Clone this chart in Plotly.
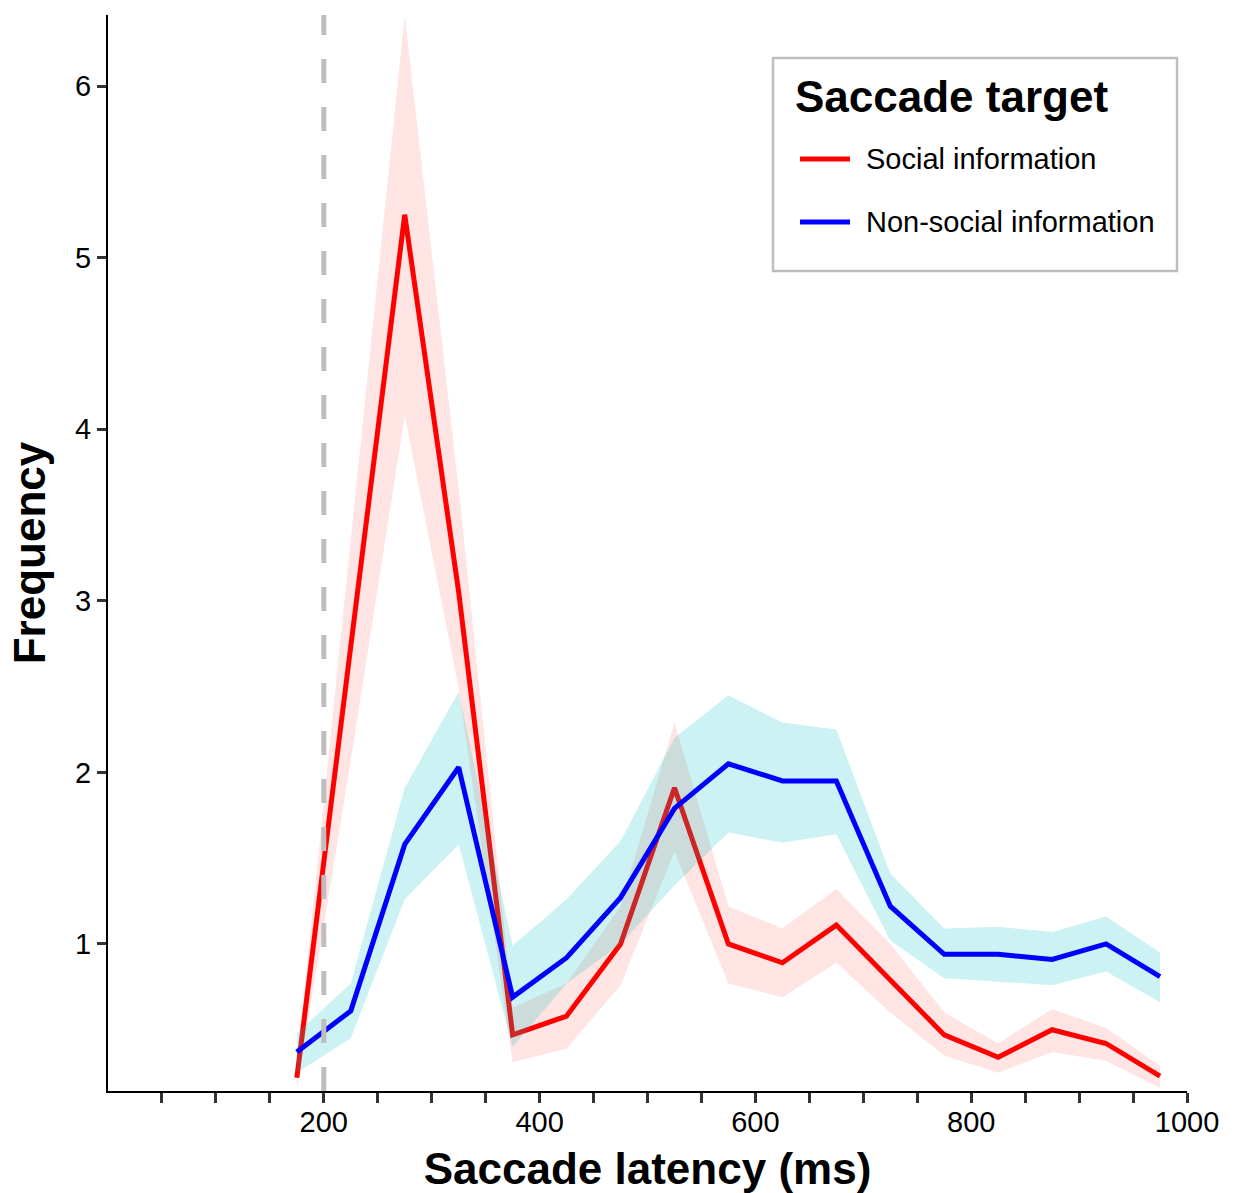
import plotly.graph_objects as go

# ---------------- data ----------------
latency = [175, 225, 275, 325, 375, 425, 475, 525, 575, 625, 675, 725, 775, 825, 875, 925, 975]

social_mean  = [0.22, 2.74, 5.25, 3.05, 0.47, 0.58, 1.00, 1.91, 1.00, 0.89, 1.11, 0.79, 0.47, 0.34, 0.50, 0.42, 0.23]
social_upper = [0.30, 3.35, 6.41, 3.65, 0.63, 0.77, 1.22, 2.29, 1.22, 1.09, 1.32, 1.00, 0.60, 0.42, 0.62, 0.51, 0.29]
social_lower = [0.15, 2.07, 4.08, 2.49, 0.31, 0.39, 0.76, 1.54, 0.77, 0.69, 0.89, 0.60, 0.35, 0.25, 0.37, 0.32, 0.16]

nonsocial_mean  = [0.37, 0.61, 1.58, 2.03, 0.69, 0.92, 1.27, 1.79, 2.05, 1.95, 1.95, 1.22, 0.94, 0.94, 0.91, 1.00, 0.81]
nonsocial_upper = [0.48, 0.77, 1.91, 2.47, 0.99, 1.26, 1.60, 2.20, 2.45, 2.29, 2.25, 1.41, 1.09, 1.10, 1.07, 1.16, 0.95]
nonsocial_lower = [0.25, 0.45, 1.26, 1.58, 0.40, 0.77, 1.00, 1.34, 1.65, 1.59, 1.64, 1.02, 0.80, 0.78, 0.76, 0.84, 0.66]

series_names = ["Social information", "Non-social information"]
legend_title = "Saccade target"
x_title = "Saccade latency (ms)"
y_title = "Frequency"

x_tickvals = list(range(50, 1001, 50))
x_labelled = [200, 400, 600, 800, 1000]
y_tickvals = [1, 2, 3, 4, 5, 6]
vline_x = 200

# ---------------- styling ----------------
W, H = 1234, 1193
L, R, T, B = 108, 1187, 15, 1091
FONT = "Liberation Sans, Arial, Helvetica, sans-serif"
line_colors = ["#FF0000", "#0000FF"]
ribbon_colors = ["rgba(248,118,109,0.2)", "rgba(0,191,196,0.2)"]


def px_x(px):
    return (px - L) / (R - L)


def px_y(py):
    return (B - py) / (B - T)


fig = go.Figure()

groups = [
    (social_mean, social_upper, social_lower),
    (nonsocial_mean, nonsocial_upper, nonsocial_lower),
]
for i, (mean, upper, lower) in enumerate(groups):
    fig.add_trace(go.Scatter(
        x=latency + latency[::-1],
        y=upper + lower[::-1],
        fill="toself",
        fillcolor=ribbon_colors[i],
        line=dict(width=0, color="rgba(0,0,0,0)"),
        mode="lines",
        hoverinfo="skip",
        showlegend=False,
    ))
    fig.add_trace(go.Scatter(
        x=latency,
        y=mean,
        mode="lines",
        line=dict(color=line_colors[i], width=5),
        name=series_names[i],
        showlegend=False,
    ))

shapes = [
    dict(type="line", xref="x", yref="paper", x0=vline_x, x1=vline_x, y0=0, y1=1,
         line=dict(color="#BEBEBE", width=5, dash="24px,24px"), layer="above"),
    # legend box
    dict(type="rect", xref="paper", yref="paper",
         x0=px_x(773), x1=px_x(1177), y0=px_y(271), y1=px_y(58),
         line=dict(color="#BEBEBE", width=2.5), fillcolor="white", layer="above"),
]
annotations = [
    dict(text=legend_title, xref="paper", yref="paper", x=px_x(793), y=px_y(97),
         xanchor="left", yanchor="middle", showarrow=False,
         font=dict(family=FONT, size=44, color="black", weight="bold")),
]
leg_y = [159, 222]
for i, name in enumerate(series_names):
    shapes.append(dict(type="line", xref="paper", yref="paper",
                       x0=px_x(800), x1=px_x(850), y0=px_y(leg_y[i]), y1=px_y(leg_y[i]),
                       line=dict(color=line_colors[i], width=5), layer="above"))
    annotations.append(dict(text=name, xref="paper", yref="paper", x=px_x(864), y=px_y(leg_y[i]),
                            xanchor="left", yanchor="middle", showarrow=False,
                            font=dict(family=FONT, size=29, color="black")))

fig.update_layout(
    width=W, height=H,
    margin=dict(l=L, r=W - R, t=T, b=H - B, autoexpand=False),
    paper_bgcolor="white", plot_bgcolor="white",
    showlegend=False,
    shapes=shapes,
    annotations=annotations,
    font=dict(family=FONT, color="black"),
)
fig.update_xaxes(
    range=[0, 1000],
    tickmode="array",
    tickvals=x_tickvals,
    ticktext=[str(v) if v in x_labelled else "" for v in x_tickvals],
    ticks="outside", ticklen=10, tickwidth=3, tickcolor="#333333",
    showline=True, linecolor="black", linewidth=2,
    showgrid=False, zeroline=False,
    tickfont=dict(family=FONT, size=29, color="black"),
    ticklabelstandoff=-6,
    title=dict(text=x_title, standoff=20,
               font=dict(family=FONT, size=44, color="black", weight="bold")),
    automargin=False,
)
fig.update_yaxes(
    range=[0.143, 6.414],
    tickmode="array",
    tickvals=y_tickvals,
    ticks="outside", ticklen=9, tickwidth=3, tickcolor="#333333",
    showline=True, linecolor="black", linewidth=2,
    showgrid=False, zeroline=False,
    tickfont=dict(family=FONT, size=29, color="black"),
    title=dict(text=y_title, standoff=16,
               font=dict(family=FONT, size=44, color="black", weight="bold")),
    automargin=False,
)

fig.write_html(
    "out.html",
    config={"displayModeBar": False},
    post_script="document.body.style.margin='0px';document.body.style.overflow='hidden';",
)
